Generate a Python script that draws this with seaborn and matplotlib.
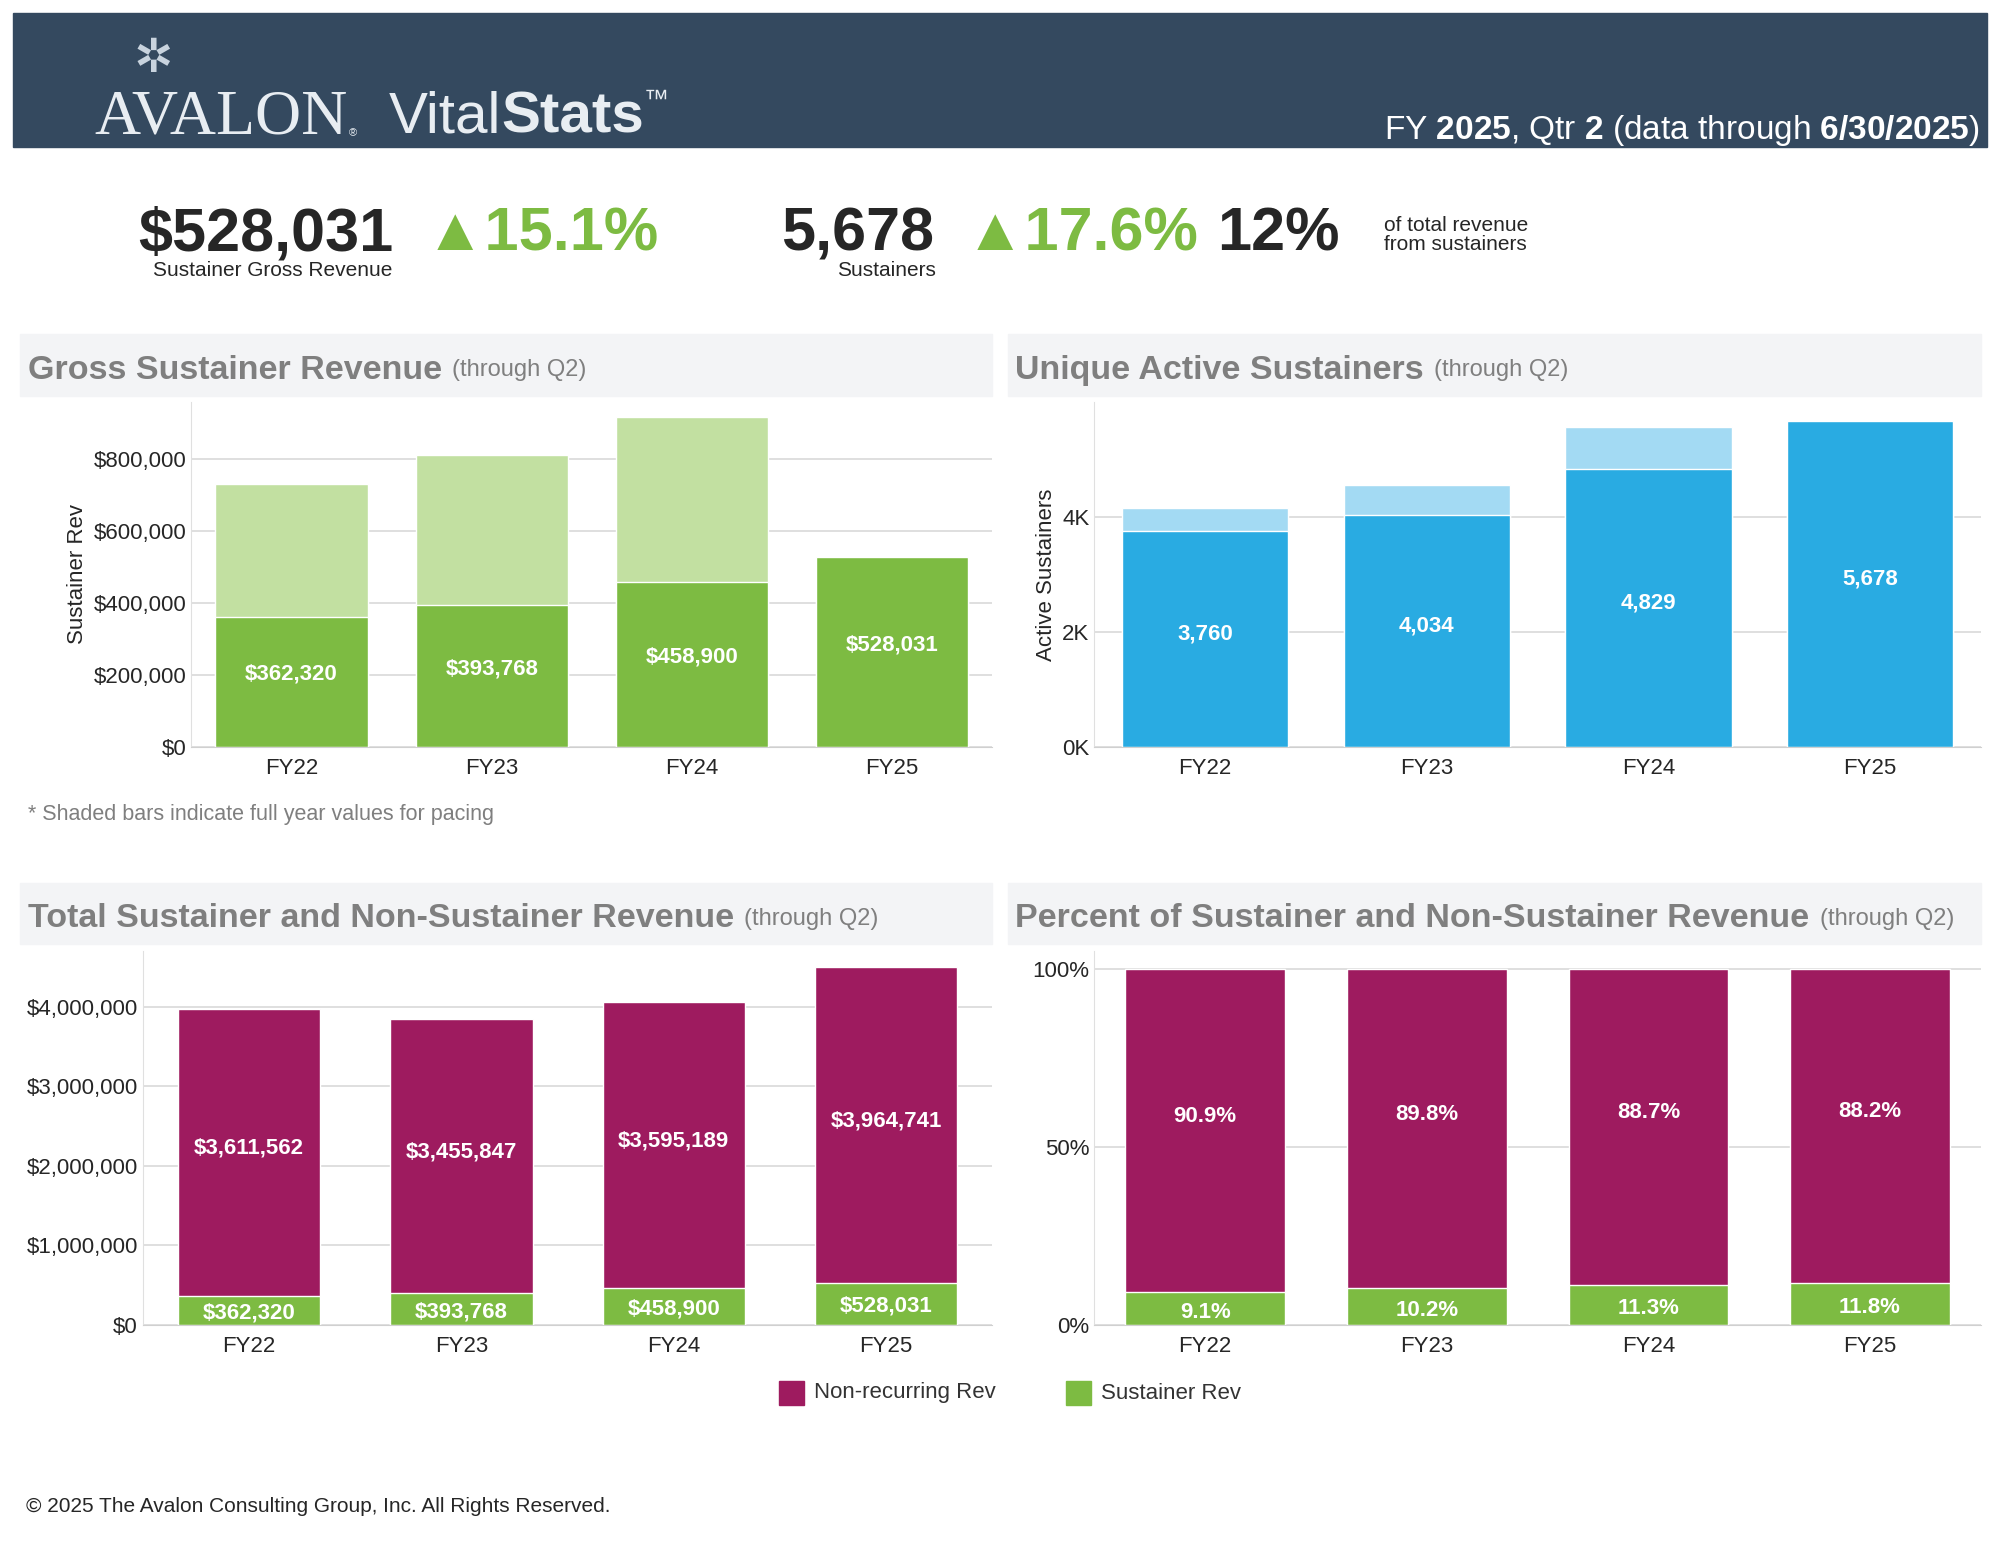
import numpy as np
import pandas as pd
import matplotlib.pyplot as plt
from matplotlib.patches import Rectangle
import seaborn as sns

sns.set_style("whitegrid")
plt.rcParams['font.family'] = ['Liberation Sans', 'DejaVu Sans']
plt.rcParams['mathtext.fontset'] = 'custom'
plt.rcParams['mathtext.rm'] = 'Liberation Sans'
plt.rcParams['mathtext.bf'] = 'Liberation Sans:bold'

years = ['FY22', 'FY23', 'FY24', 'FY25']
sust_rev = [362320, 393768, 458900, 528031]
sust_rev_full = [732000, 813000, 917000, 528031]
active = [3760, 4034, 4829, 5678]
active_full = [4150, 4560, 5570, 5678]
nonrec_rev = [3611562, 3455847, 3595189, 3964741]
pct_sust = [9.1, 10.2, 11.3, 11.8]
pct_nonrec = [90.9, 89.8, 88.7, 88.2]

GREEN = '#7dbb42'
LGREEN = '#c2e0a1'
BLUE = '#29abe2'
LBLUE = '#a3daf3'
MAROON = '#9e1b5f'
W, H = 1568, 1216

fig = plt.figure(figsize=(20, 15.52), dpi=100)


def box(x0, y0, x1, y1):
    return [x0 / W, 1 - y1 / H, (x1 - x0) / W, (y1 - y0) / H]


def ftext(x, y, s, **kw):
    return fig.text(x / W, 1 - y / H, s, **kw)


def right_of(t):
    fig.canvas.draw()
    return t.get_window_extent().x1 / fig.bbox.width * W


# header band
fig.patches.append(Rectangle((10 / W, 1 - 115 / H), 1548 / W, 105 / H,
                             transform=fig.transFigure, color='#34495f', zorder=0))
ftext(120, 47, '✲', color='#c8d3de', fontsize=34, ha='center', va='center')
t = ftext(74, 93, 'AVALON', color='#e8edf2', fontsize=46, family='Liberation Serif', va='center')
ftext(right_of(t) + 1, 104, '®', color='#e8edf2', fontsize=8, va='center')
t = ftext(305, 92, 'Vital', color='#e8edf2', fontsize=42, va='center')
t = ftext(right_of(t), 92, 'Stats', color='#e8edf2', fontsize=42, weight='bold', va='center')
ftext(right_of(t), 78, '™', color='#e8edf2', fontsize=18, va='center')
ftext(1552, 102, 'FY $\\bf{2025}$, Qtr $\\bf{2}$ (data through $\\bf{6/30/2025}$)',
      color='white', fontsize=24, ha='right', va='center')

# KPIs
ftext(108, 184, '$528,031', fontsize=44, weight='bold', va='center')
ftext(120, 212, 'Sustainer Gross Revenue', fontsize=15, va='center')
ftext(333, 184, '▲15.1%', fontsize=44, weight='bold', color=GREEN, va='center')
ftext(612, 184, '5,678', fontsize=44, weight='bold', va='center')
ftext(656, 212, 'Sustainers', fontsize=15, va='center')
ftext(756, 184, '▲17.6%', fontsize=44, weight='bold', color=GREEN, va='center')
ftext(954, 184, '12%', fontsize=44, weight='bold', va='center')
ftext(1085, 184, 'of total revenue\nfrom sustainers', fontsize=15, va='center', linespacing=1.0)


def strip(x0, y0, x1, y1, title, sub):
    fig.patches.append(Rectangle((x0 / W, 1 - y1 / H), (x1 - x0) / W, (y1 - y0) / H,
                                 transform=fig.transFigure, color='#f3f4f6', zorder=0))
    t = ftext(x0 + 6, y0 + 28, title, fontsize=24.5, weight='bold', color='#7f7f7f', va='center')
    ftext(right_of(t) + 8, y0 + 28, sub, fontsize=17, color='#7f7f7f', va='center')


strip(16, 262, 778, 310, 'Gross Sustainer Revenue', '(through Q2)')
strip(790, 262, 1553, 310, 'Unique Active Sustainers', '(through Q2)')
strip(16, 692, 778, 740, 'Total Sustainer and Non-Sustainer Revenue', '(through Q2)')
strip(790, 692, 1553, 740, 'Percent of Sustainer and Non-Sustainer Revenue', '(through Q2)')
ftext(22, 638, '* Shaded bars indicate full year values for pacing', fontsize=15.5,
      color='#7f7f7f', va='center')


def style(ax, ymax):
    ax.set_ylim(0, ymax)
    ax.set_xlabel('')
    ax.grid(axis='x', visible=False)
    ax.grid(axis='y', color='#d9d9d9', linewidth=1.2)
    for s in ['top', 'right']:
        ax.spines[s].set_visible(False)
    ax.spines['left'].set_color('#e0e0e0')
    ax.spines['bottom'].set_color('#d0d0d0')
    ax.tick_params(axis='both', labelsize=16, length=0)
    ax.tick_params(axis='x', pad=8)


def money(v):
    return f'${v:,.0f}'


# panel 1
ax1 = fig.add_axes(box(150, 315, 778, 585))
sns.barplot(x=years, y=sust_rev_full, color=LGREEN, saturation=1, width=0.76, ax=ax1)
sns.barplot(x=years, y=sust_rev, color=GREEN, saturation=1, width=0.76, ax=ax1)
style(ax1, 960000)
ax1.set_yticks(np.arange(0, 900000, 200000))
ax1.set_yticklabels([money(v) for v in np.arange(0, 900000, 200000)])
ax1.set_ylabel('Sustainer Rev', fontsize=16)
for i, v in enumerate(sust_rev):
    ax1.text(i, v / 2 + 20000, money(v), color='white', weight='bold', ha='center',
             va='center', fontsize=16)

# panel 2
ax2 = fig.add_axes(box(858, 315, 1553, 585))
sns.barplot(x=years, y=active_full, color=LBLUE, saturation=1, width=0.75, ax=ax2)
sns.barplot(x=years, y=active, color=BLUE, saturation=1, width=0.75, ax=ax2)
style(ax2, 6000)
ax2.set_yticks([0, 2000, 4000])
ax2.set_yticklabels(['0K', '2K', '4K'])
ax2.set_ylabel('Active Sustainers', fontsize=16)
for i, v in enumerate(active):
    ax2.text(i, v / 2 + 80, f'{v:,}', color='white', weight='bold', ha='center',
             va='center', fontsize=16)

# panel 3
total = [a + b for a, b in zip(sust_rev, nonrec_rev)]
ax3 = fig.add_axes(box(112, 745, 778, 1038))
sns.barplot(x=years, y=total, color=MAROON, saturation=1, width=0.67, ax=ax3)
sns.barplot(x=years, y=sust_rev, color=GREEN, saturation=1, width=0.67, ax=ax3)
style(ax3, 4700000)
ax3.set_yticks(np.arange(0, 4500000, 1000000))
ax3.set_yticklabels([money(v) for v in np.arange(0, 4500000, 1000000)])
ax3.set_ylabel('')
for i in range(4):
    ax3.text(i, sust_rev[i] / 2 - 30000, money(sust_rev[i]), color='white', weight='bold',
             ha='center', va='center', fontsize=16)
    ax3.text(i, sust_rev[i] + nonrec_rev[i] / 2 + 50000, money(nonrec_rev[i]), color='white',
             weight='bold', ha='center', va='center', fontsize=16)

# panel 4
ax4 = fig.add_axes(box(858, 745, 1553, 1038))
sns.barplot(x=years, y=[100] * 4, color=MAROON, saturation=1, width=0.72, ax=ax4)
sns.barplot(x=years, y=pct_sust, color=GREEN, saturation=1, width=0.72, ax=ax4)
style(ax4, 105)
ax4.set_yticks([0, 50, 100])
ax4.set_yticklabels(['0%', '50%', '100%'])
ax4.set_ylabel('')
for i in range(4):
    ax4.text(i, pct_sust[i] / 2 - 1, f'{pct_sust[i]}%', color='white', weight='bold',
             ha='center', va='center', fontsize=16)
    ax4.text(i, pct_sust[i] + pct_nonrec[i] / 2 + 4, f'{pct_nonrec[i]}%', color='white',
             weight='bold', ha='center', va='center', fontsize=16)

# legend
fig.patches.append(Rectangle((611 / W, 1 - 1101 / H), 19 / W, 19 / H,
                             transform=fig.transFigure, color=MAROON))
ftext(638, 1091, 'Non-recurring Rev', fontsize=16, va='center', color='#333333')
fig.patches.append(Rectangle((836 / W, 1 - 1101 / H), 19 / W, 19 / H,
                             transform=fig.transFigure, color=GREEN))
ftext(863, 1092, 'Sustainer Rev', fontsize=16, va='center', color='#333333')

ftext(20, 1180, '© 2025 The Avalon Consulting Group, Inc. All Rights Reserved.',
      fontsize=15, va='center')

fig.savefig('out.png', dpi=100)
